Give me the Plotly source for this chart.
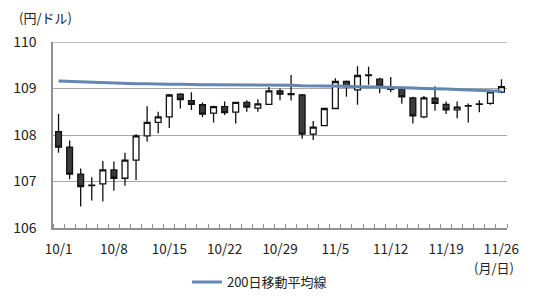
import plotly.graph_objects as go

dates = ["10/1","10/2","10/3","10/4","10/5","10/8","10/9","10/10","10/11","10/12",
         "10/15","10/16","10/17","10/18","10/19","10/22","10/23","10/24","10/25","10/26",
         "10/29","10/30","10/31","11/1","11/2","11/5","11/6","11/7","11/8","11/9",
         "11/12","11/13","11/14","11/15","11/16","11/19","11/20","11/21","11/22","11/23",
         "11/26"]
opens = [108.07,107.74,107.16,106.92,106.95,107.25,107.07,107.46,107.98,108.27,
         108.39,108.88,108.74,108.65,108.47,108.61,108.49,108.70,108.58,108.66,
         108.95,108.89,108.86,108.02,108.20,108.57,109.15,108.97,109.29,109.20,
         109.00,108.98,108.80,108.39,108.79,108.66,108.54,108.62,108.66,108.68,
         108.92]
highs = [108.45,107.88,107.28,107.09,107.44,107.43,107.62,108.02,108.62,108.50,
         108.88,108.90,108.92,108.70,108.63,108.72,108.71,108.75,108.77,109.03,
         109.00,109.29,108.88,108.30,108.58,109.22,109.17,109.48,109.47,109.23,
         109.25,109.04,108.82,108.84,109.05,108.72,108.72,108.68,108.75,108.94,
         109.20]
lows = [107.62,107.05,106.46,106.59,106.57,106.80,106.91,107.03,107.86,108.04,
        108.15,108.57,108.54,108.38,108.27,108.43,108.25,108.50,108.50,108.65,
        108.75,108.74,107.92,107.89,108.19,108.56,108.82,108.65,109.08,108.90,
        108.92,108.67,108.25,108.36,108.52,108.45,108.36,108.27,108.49,108.65,
        108.90]
closes = [107.74,107.16,106.89,106.91,107.25,107.07,107.46,107.98,108.27,108.39,
          108.86,108.76,108.66,108.45,108.61,108.48,108.70,108.60,108.67,108.95,
          108.88,108.87,108.02,108.17,108.57,109.15,109.04,109.28,109.28,109.05,
          108.98,108.82,108.41,108.80,108.68,108.54,108.60,108.63,108.67,108.93,
          109.04]
ma200 = [109.16,109.15,109.14,109.13,109.12,109.12,109.11,109.10,109.10,109.09,
         109.09,109.09,109.08,109.08,109.08,109.08,109.08,109.08,109.07,109.07,
         109.07,109.07,109.06,109.06,109.05,109.05,109.05,109.04,109.04,109.03,
         109.02,109.02,109.01,109.00,109.00,108.99,108.98,108.97,108.96,108.95,
         108.94]
label_idx = [0, 5, 10, 15, 20, 25, 30, 35, 40]
y_ticks = [106, 107, 108, 109, 110]

xs = list(range(len(dates)))
font = "Noto Sans CJK JP, Noto Sans, sans-serif"

fig = go.Figure()
fig.add_trace(go.Candlestick(
    x=xs, open=opens, high=highs, low=lows, close=closes,
    increasing=dict(fillcolor="#ffffff", line=dict(color="#111111", width=1.3)),
    decreasing=dict(fillcolor="#3c3c3c", line=dict(color="#111111", width=1.3)),
    whiskerwidth=0, showlegend=False, hoverinfo="skip"))
fig.add_trace(go.Scatter(
    x=xs, y=ma200, mode="lines", name="200日移動平均線",
    line=dict(color="#6386b2", width=3)))

fig.add_shape(type="line", xref="paper", yref="y", x0=0, x1=1,
              y0=y_ticks[-1], y1=y_ticks[-1], layer="below",
              line=dict(color="#a8a8a8", width=1.5))

fig.update_layout(
    width=550, height=306,
    margin=dict(l=53, r=43, t=42, b=78, autoexpand=False),
    paper_bgcolor="white", plot_bgcolor="white",
    boxgap=0.25,
    font=dict(family=font, size=13, color="#222222"),
    xaxis=dict(range=[-0.5, 40.5], tickmode="array",
               tickvals=[xs[i] for i in label_idx],
               ticktext=[dates[i] for i in label_idx],
               ticks="", showgrid=False, zeroline=False,
               showline=True, linecolor="#909090", linewidth=1.5,
               rangeslider=dict(visible=False),
               minor=dict(tickmode="linear", tick0=-0.5, dtick=1, ticks="inside",
                          ticklen=4, tickcolor="#909090", showgrid=False),
               ticklabelstandoff=8, tickfont=dict(size=13.5)),
    yaxis=dict(range=[106, 110], tickmode="array", tickvals=y_ticks,
               showgrid=True, gridcolor="#a8a8a8", gridwidth=1.3,
               zeroline=False, showline=True, linecolor="#909090", linewidth=1.5,
               ticks="", ticklabelstandoff=12, tickfont=dict(size=14)),
    showlegend=True,
    legend=dict(orientation="h", x=0.295, y=-0.21, xanchor="left", yanchor="top",
                font=dict(size=13), bgcolor="rgba(0,0,0,0)"),
    annotations=[
        dict(text="(円/ドル)", xref="paper", yref="paper", x=-0.08, y=1.13,
             xanchor="left", yanchor="middle", showarrow=False, font=dict(size=13)),
        dict(text="(月/日)", xref="paper", yref="paper", x=1.02, y=-0.215,
             xanchor="right", yanchor="middle", showarrow=False, font=dict(size=13)),
    ],
)

fig.write_html("out.html")
